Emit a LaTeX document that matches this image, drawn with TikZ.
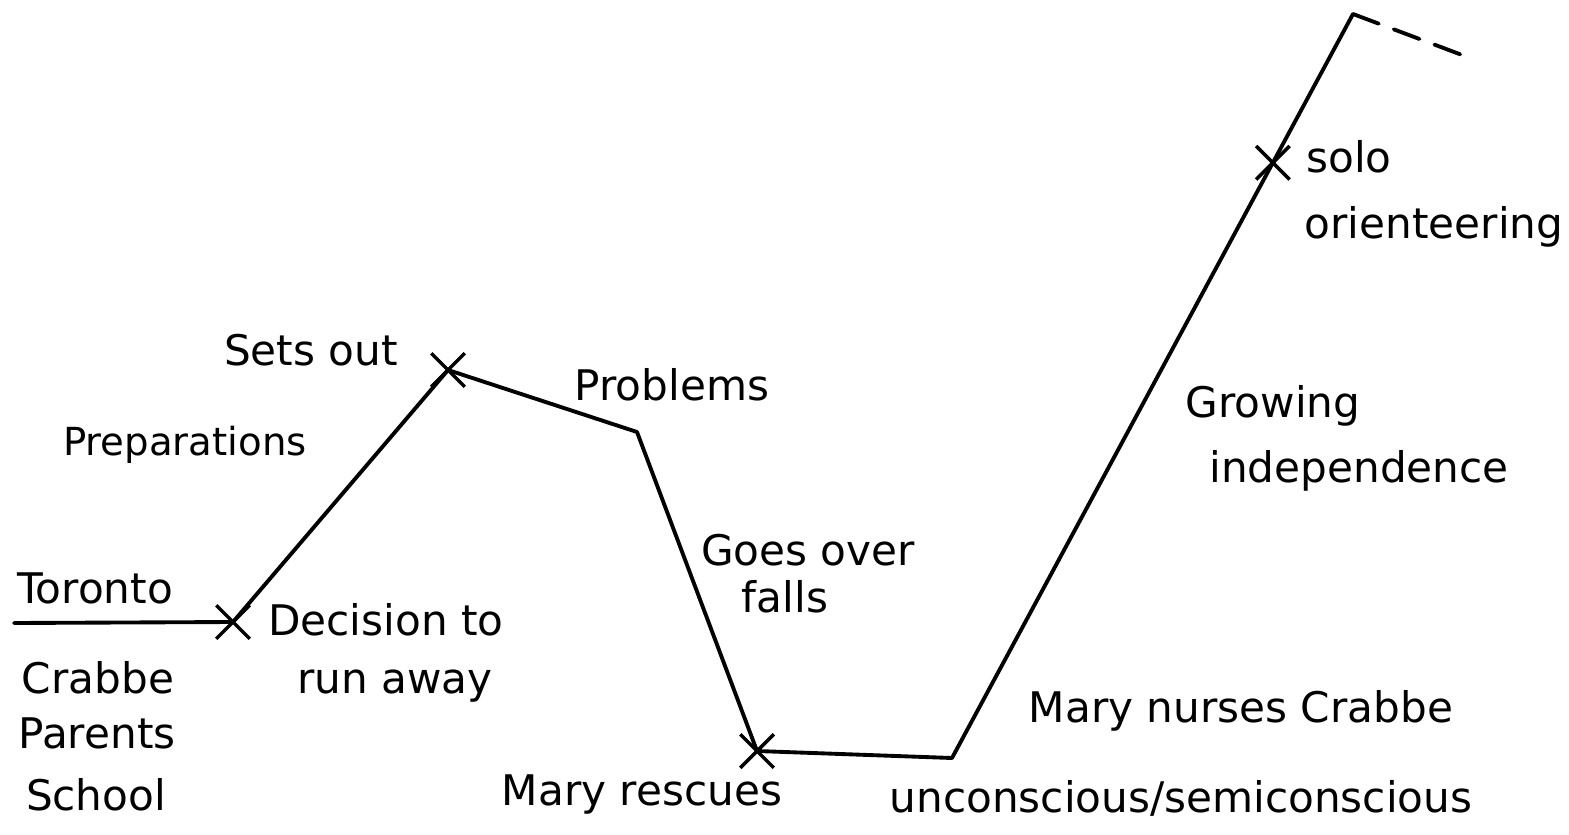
\documentclass[tikz,border=0pt]{standalone}
\usepackage{fontspec}
\setmainfont{DejaVu Sans}
\usetikzlibrary{shapes.misc}
\begin{document}
\begin{tikzpicture}[x=0.02cm, y=-0.02cm,
  plotline/.style={line width=2.2pt, line join=round, line cap=round},
  tick/.style={cross out, draw, line width=2pt, minimum size=0.6cm, inner sep=0pt},
  word/.style={font=\fontsize{24}{28}\selectfont, inner sep=0pt, anchor=base}]
\useasboundingbox (0,0) rectangle (1569,835);
% the plot line
\coordinate (start) at (14,623);
\coordinate (decide) at (233,622);
\coordinate (setout) at (448,370);
\coordinate (problem) at (637,432);
\coordinate (rescue) at (757,751);
\coordinate (nurse) at (952,758);
\coordinate (peak) at (1353,14);
\coordinate (fade) at (1470,58);
\draw[plotline] (start) -- (decide) -- (setout) -- (problem) -- (rescue) -- (nurse) -- (peak);
\draw[plotline, dash pattern=on 0.55cm off 0.32cm] (peak) -- (fade);
\path (nurse) -- (peak) coordinate[pos=0.8] (solo);
% the marks
\node[tick] (m1) at (decide) {};
\node[tick] (m2) at (setout) {};
\node[tick] (m3) at (rescue) {};
\node[tick] (m4) at (solo) {};
% the words
\node[word] (toronto) at (95,603) {Toronto};
\node[word] (crabbe) at (98,693) {Crabbe};
\node[word] (parents) at (97,748) {Parents};
\node[word] (school) at (96,810) {School};
\node[word] (decision) at (386,635) {Decision to};
\node[word] (runaway) at (395,693) {run away};
\node[word, font=\fontsize{22}{26}\selectfont] (prep) at (185,455) {Preparations};
\node[word] (sets) at (311,365) {Sets out};
\node[word] (probs) at (672,400) {Problems};
\node[word] (goes) at (808,565) {Goes over};
\node[word] (falls) at (785,612) {falls};
\node[word] (rescues) at (642,805) {Mary rescues};
\node[word] (uncon) at (1181,812) {unconscious/semiconscious};
\node[word] (nurses) at (1241,722) {Mary nurses Crabbe};
\node[word] (grow) at (1273,417) {Growing};
\node[word] (indep) at (1359,482) {independence};
\node[word] (solow) at (1349,172) {solo};
\node[word] (orient) at (1434,238) {orienteering};
\end{tikzpicture}
\end{document}
